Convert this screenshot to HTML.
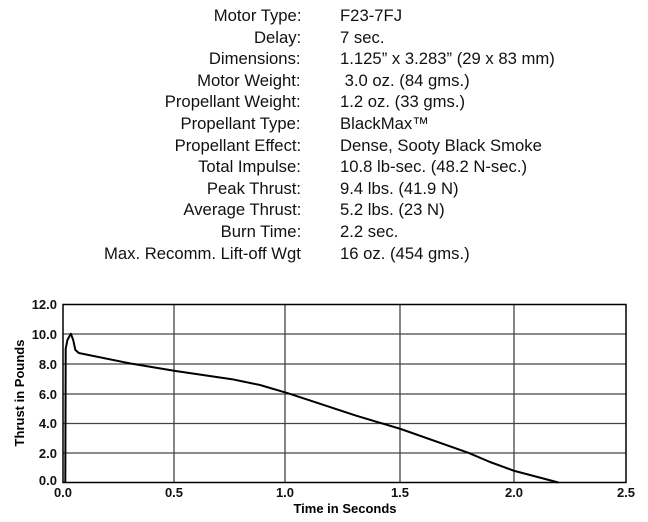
<!DOCTYPE html>
<html><head><style>
body{margin:0;background:#fff;width:648px;height:522px;overflow:hidden;font-family:"Liberation Sans",sans-serif;}
.t{position:absolute;left:0;top:5px;font-size:17px;line-height:21.6px;color:#111}
.l{position:absolute;right:347px;white-space:nowrap;text-align:right;transform:scaleX(0.98);transform-origin:right}
.v{position:absolute;left:340px;white-space:nowrap;transform:scaleX(0.98);transform-origin:left}
</style></head><body>
<div class="t" style="width:648px">
<div class="l" style="top:0">Motor Type:</div><div class="v" style="top:0">F23-7FJ</div>
<div class="l" style="top:21.6px">Delay:</div><div class="v" style="top:21.6px">7 sec.</div>
<div class="l" style="top:43.2px">Dimensions:</div><div class="v" style="top:43.2px">1.125” x 3.283” (29 x 83 mm)</div>
<div class="l" style="top:64.8px">Motor Weight:</div><div class="v" style="top:64.8px">&nbsp;3.0 oz. (84 gms.)</div>
<div class="l" style="top:86.4px">Propellant Weight:</div><div class="v" style="top:86.4px">1.2 oz. (33 gms.)</div>
<div class="l" style="top:108px">Propellant Type:</div><div class="v" style="top:108px">BlackMax™</div>
<div class="l" style="top:129.6px">Propellant Effect:</div><div class="v" style="top:129.6px">Dense, Sooty Black Smoke</div>
<div class="l" style="top:151.2px">Total Impulse:</div><div class="v" style="top:151.2px">10.8 lb-sec. (48.2 N-sec.)</div>
<div class="l" style="top:172.8px">Peak Thrust:</div><div class="v" style="top:172.8px">9.4 lbs. (41.9 N)</div>
<div class="l" style="top:194.4px">Average Thrust:</div><div class="v" style="top:194.4px">5.2 lbs. (23 N)</div>
<div class="l" style="top:216px">Burn Time:</div><div class="v" style="top:216px">2.2 sec.</div>
<div class="l" style="top:237.6px">Max. Recomm. Lift-off Wgt</div><div class="v" style="top:237.6px">16 oz. (454 gms.)</div>
</div>
<svg width="648" height="522" style="position:absolute;left:0;top:0" font-family="Liberation Sans, sans-serif">
<g stroke="#444" stroke-width="1.3">
<line x1="63" y1="334" x2="626" y2="334"/><line x1="63" y1="364" x2="626" y2="364"/>
<line x1="63" y1="394" x2="626" y2="394"/><line x1="63" y1="423.5" x2="626" y2="423.5"/>
<line x1="63" y1="453" x2="626" y2="453"/>
<line x1="174" y1="304" x2="174" y2="483"/><line x1="285" y1="304" x2="285" y2="483"/>
<line x1="400" y1="304" x2="400" y2="483"/><line x1="514" y1="304" x2="514" y2="483"/>
</g>
<rect x="63" y="304.5" width="563" height="178" fill="none" stroke="#000" stroke-width="1.5"/>
<g font-size="13" fill="#111" text-anchor="end" font-weight="bold">
<text x="57" y="309">12.0</text><text x="57" y="339">10.0</text><text x="57" y="369">8.0</text>
<text x="57" y="399">6.0</text><text x="57" y="428">4.0</text><text x="57" y="458">2.0</text><text x="57" y="485">0.0</text>
</g>
<g font-size="13" fill="#111" text-anchor="middle" font-weight="bold">
<text x="63" y="497">0.0</text><text x="174" y="497">0.5</text><text x="285" y="497">1.0</text>
<text x="400" y="497">1.5</text><text x="514" y="497">2.0</text><text x="626" y="497">2.5</text>
</g>
<text x="345" y="513" font-size="13" font-weight="bold" text-anchor="middle">Time in Seconds</text>
<text transform="translate(24,393) rotate(-90)" font-size="13" font-weight="bold" text-anchor="middle">Thrust in Pounds</text>
<polyline fill="none" stroke="#000" stroke-width="2" stroke-linejoin="round" points="65.3,482.5 65.7,348.7 67.5,339.7 70.9,333.8 73.1,339.7 75.4,350 78.8,353 130.6,363.5 175.6,371 231.9,379.2 260,385 288.2,393.3 310.7,400.7 355.8,415.6 400.8,429 468.4,452.8 490,462 513.4,470.6 558.4,482.5"/>
</svg>
</body></html>
